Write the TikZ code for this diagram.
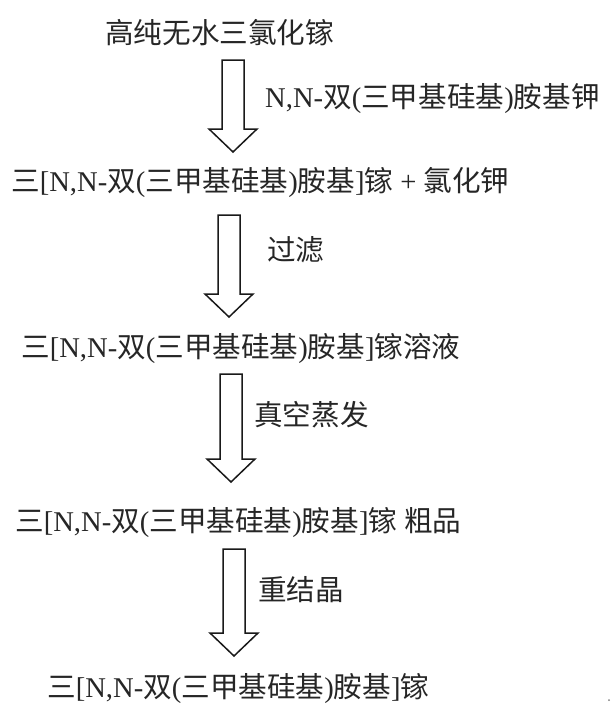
\documentclass[tikz,border=0pt]{standalone}
\usepackage{fontspec}
\setmainfont{Liberation Serif}
\newfontfamily\cjk{Noto Sans CJK SC}
\usetikzlibrary{calc}
\newcommand\C[1]{{\cjk #1}}
% block arrow from top coordinate #1 to tip coordinate #2
\newcommand\blockarrow[2]{%
  \draw[barrow] ($(#1)+(-11,0)$) -- ($(#2)+(-11,-23)$) -- ($(#2)+(-24,-23)$) -- (#2)
    -- ($(#2)+(24,-23)$) -- ($(#2)+(11,-23)$) -- ($(#1)+(11,0)$) -- cycle;}
\begin{document}
\begin{tikzpicture}[x=1pt,y=-1pt,
  txt/.style={anchor=west,inner sep=0pt,font=\fontsize{28.6}{34}\selectfont,text=black!85},
  lbl/.style={txt},
  barrow/.style={draw=black!90,line width=1.5pt,fill=white,line join=miter}]
\useasboundingbox (0,0) rectangle (612,713);
\fill[white] (0,0) rectangle (612,713);
% texts
\node[txt] (t1) at (105,33) {\C{高纯无水三氯化镓}};
\node[txt] (t2) at (11,182) {\C{三}[N,N-\C{双}(\C{三甲基硅基})\C{胺基}]\C{镓} + \C{氯化钾}};
\node[txt] (t3) at (21,348) {\C{三}[N,N-\C{双}(\C{三甲基硅基})\C{胺基}]\C{镓溶液}};
\node[txt] (t4) at (15,523) {\C{三}[N,N-\C{双}(\C{三甲基硅基})\C{胺基}]\C{镓} \C{粗品}};
\node[txt] (t5) at (47,689) {\C{三}[N,N-\C{双}(\C{三甲基硅基})\C{胺基}]\C{镓}};
% labels
\node[lbl] (l1) at (265,99) {N,N-\C{双}(\C{三甲基硅基})\C{胺基钾}};
\node[lbl] (l2) at (267,250) {\C{过滤}};
\node[lbl] (l3) at (254,415) {\C{真空蒸发}};
\node[lbl] (l4) at (258,590) {\C{重结晶}};
% arrow coordinates
\coordinate (a1s) at (233,60);  \coordinate (a1e) at (233,152);
\coordinate (a2s) at (229,215); \coordinate (a2e) at (229,317);
\coordinate (a3s) at (231,374); \coordinate (a3e) at (231,482);
\coordinate (a4s) at (234,549); \coordinate (a4e) at (234,656);
\blockarrow{a1s}{a1e}
\blockarrow{a2s}{a2e}
\blockarrow{a3s}{a3e}
\blockarrow{a4s}{a4e}
\fill[black!50] (609,700) circle (1);
\end{tikzpicture}
\end{document}
